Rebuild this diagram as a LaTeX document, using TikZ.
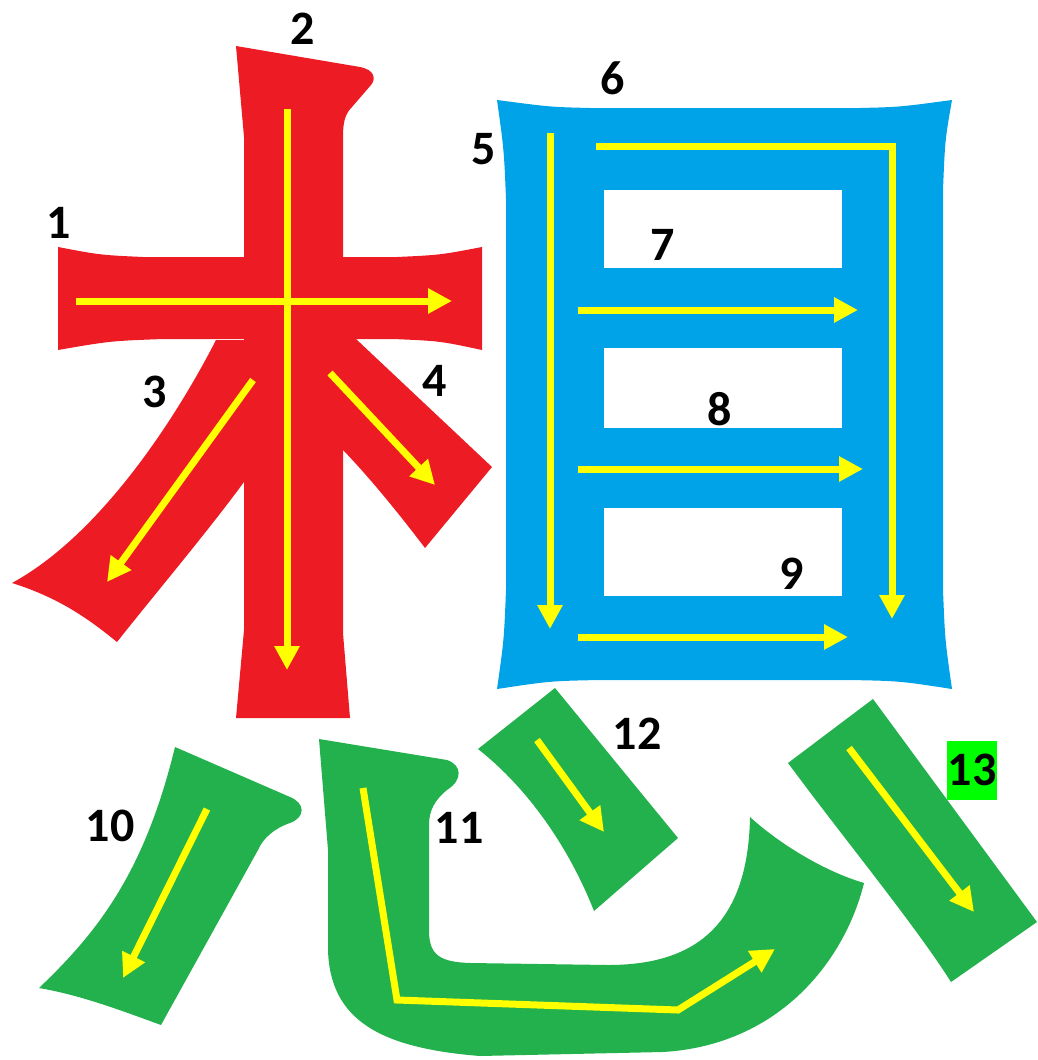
\documentclass[tikz,border=0pt]{standalone}
\usepackage{fontspec}
\setmainfont{Carlito}
\usepackage{xcolor}
\usepackage{tikz}
\usetikzlibrary{arrows.meta}

\definecolor{radred}{RGB}{237,28,36}
\definecolor{eyeblue}{RGB}{0,162,232}
\definecolor{heartgreen}{RGB}{34,177,76}
\definecolor{pathyellow}{RGB}{255,255,0}
\definecolor{markgreen}{RGB}{0,255,0}

\begin{document}
\begin{tikzpicture}[x=1pt, y=-1pt,
    stk/.style={draw=pathyellow, line width=7pt, line join=miter,
                -{Triangle[length=24pt,width=24pt]}},
    num/.style={font=\fontsize{48}{48}\selectfont\bfseries, inner sep=0pt}]
  \useasboundingbox (0,0) rectangle (1038,1060);

  % left part (red)
  \fill[radred] (58,247) .. controls (100,255) .. (143,257) -- (397,257)
        .. controls (440,255) .. (482,247) -- (482,350)
        .. controls (440,341) .. (393,339) -- (163,339)
        .. controls (110,341) .. (58,350) -- cycle;
  \fill[radred] (236,46) -- (360,67) .. controls (375,70) and (376,79) .. (371,85)
        -- (352,107) .. controls (345,114) and (343,122) .. (343,137)
        -- (343,633) -- (350,718) -- (236,718) -- (244,630) -- (244,137) -- cycle;
  \fill[radred] (216,340) .. controls (175,420) and (100,535) .. (12,583)
        .. controls (60,598) and (90,620) .. (117,642)
        .. controls (150,600) and (205,535) .. (244,482) -- (244,340) -- cycle;
  \fill[radred] (356,339) -- (492,467) -- (425,548)
        .. controls (400,515) and (370,478) .. (343,450) -- (343,339) -- cycle;

  % right part (blue)
  \fill[eyeblue] (497,100) .. controls (550,107) .. (590,108) -- (860,108)
        .. controls (900,107) .. (952,100)
        .. controls (945,140) .. (943,190) -- (943,590)
        .. controls (945,640) .. (952,689)
        .. controls (900,681) .. (850,680) -- (600,680)
        .. controls (550,681) .. (497,689)
        .. controls (504,640) .. (506,590) -- (506,199)
        .. controls (504,150) .. (497,100) -- cycle;
  \foreach \top/\bot in {190/268, 348/428, 508/596}
    \fill[white] (604,\top) rectangle (842,\bot);

  % bottom part (green)
  \fill[heartgreen] (175,747) -- (290,797) .. controls (305,803) and (306,817) .. (290,823)
        .. controls (275,828) and (263,838) .. (258,850)
        -- (161,1025) .. controls (120,1010) and (80,995) .. (39,988)
        .. controls (100,930) and (145,870) .. (175,747) -- cycle;
  \fill[heartgreen] (319,739) -- (447,760) .. controls (462,765) and (463,780) .. (447,790)
        .. controls (435,800) and (429,810) .. (429,825) -- (429,933)
        .. controls (430,955) and (440,962) .. (470,963) -- (608,965)
        .. controls (690,965) and (748,930) .. (750,817)
        .. controls (775,840) and (820,870) .. (864,883)
        .. controls (845,960) and (780,1045) .. (663,1052) -- (480,1056)
        .. controls (380,1048) and (330,1020) .. (328,950) -- (328,850) -- cycle;
  \fill[heartgreen] (555,688) -- (678,838) -- (594,911)
        .. controls (570,850) and (530,790) .. (478,749) -- cycle;
  \fill[heartgreen] (873,699) -- (1037,922) -- (951,982)
        .. controls (915,925) and (845,840) .. (788,763) -- cycle;

  % stroke order arrows
  \foreach \n/\p/\q in {1/{76,301}/{452,301}, 2/{287,109}/{287,670},
      3/{253,380}/{107,582}, 4/{330,373}/{435,485}, 5/{550,133}/{550,629},
      7/{578,310}/{858,310}, 8/{578,469}/{863,469}, 9/{578,637}/{848,637},
      10/{207,809}/{123,978}, 12/{537,740}/{604,832}, 13/{849,748}/{974,912}} {
    \coordinate (a\n) at (\p);
    \coordinate (b\n) at (\q);
    \draw[stk] (a\n) -- (b\n);
  }
  \coordinate (a6) at (596,146);
  \coordinate (k6) at (892,146);
  \coordinate (b6) at (892,619);
  \draw[stk] (a6) -- (k6) -- (b6);
  \coordinate (a11) at (363,788);
  \coordinate (k11) at (397,1000);
  \coordinate (m11) at (678,1010);
  \coordinate (b11) at (775,949);
  \draw[stk] (a11) -- (k11) -- (m11) -- (b11);

  % stroke numbers
  \foreach \n/\p in {1/{59,223}, 2/{303,29}, 3/{155,392}, 4/{435,381},
      5/{484,149}, 6/{613,78}, 7/{663,245}, 8/{720,409}, 9/{792,574},
      10/{110,826}, 11/{459,828}, 12/{637,734}}
    \node[num] (n\n) at (\p) {\n};
  \node[num, fill=markgreen, minimum height=59pt, inner xsep=1pt] (n13) at (972,770) {13};
\end{tikzpicture}
\end{document}
